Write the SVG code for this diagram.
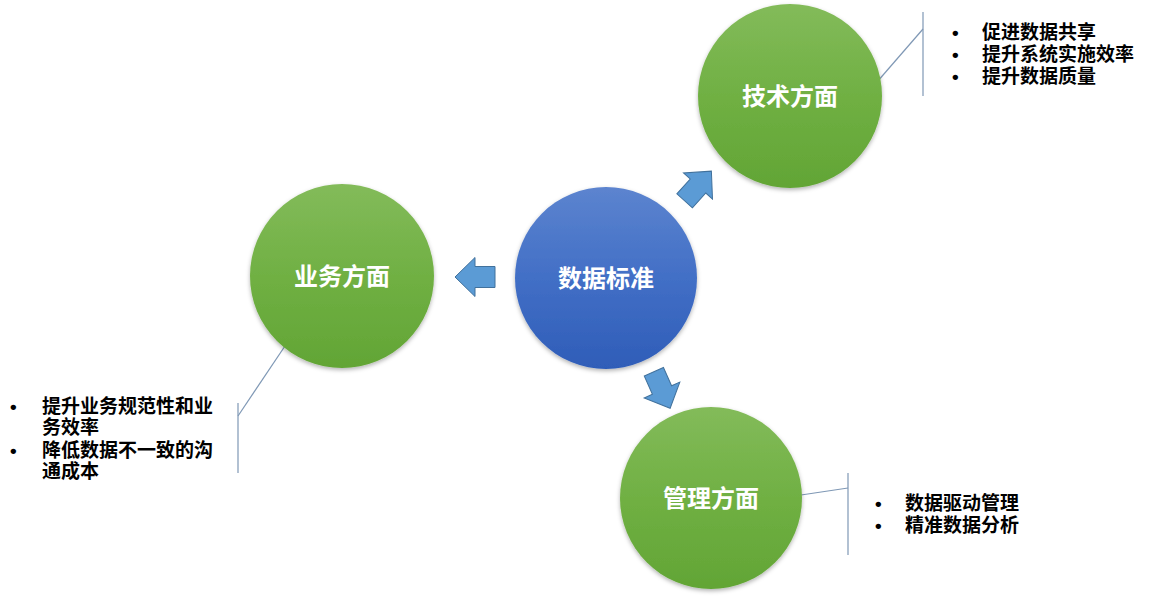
<svg xmlns="http://www.w3.org/2000/svg" width="1166" height="598" viewBox="0 0 1166 598">
  <defs>
    <linearGradient id="gGreen" x1="0" y1="0" x2="0" y2="1">
      <stop offset="0" stop-color="#83bb5a"/>
      <stop offset="0.5" stop-color="#70b043"/>
      <stop offset="1" stop-color="#62a535"/>
    </linearGradient>
    <linearGradient id="gBlue" x1="0" y1="0" x2="0" y2="1">
      <stop offset="0" stop-color="#5c84cf"/>
      <stop offset="0.5" stop-color="#426fc6"/>
      <stop offset="1" stop-color="#2f5db8"/>
    </linearGradient>
    <filter id="shadow" x="-20%" y="-20%" width="140%" height="140%">
      <feDropShadow dx="0" dy="2" stdDeviation="2" flood-color="#000" flood-opacity="0.3"/>
    </filter>
    <path id="arrow" d="M-20,-10.5 L0,-10.5 L0,-19.5 L20,0 L0,19.5 L0,10.5 L-20,10.5 Z"/>
  </defs>
  <style>
    .green { fill: url(#gGreen); filter: url(#shadow); }
    .blue { fill: url(#gBlue); filter: url(#shadow); }
    .label { font-family: "Liberation Sans", "Noto Sans CJK SC", sans-serif; font-size: 24px; font-weight: bold; fill: #ffffff; text-anchor: middle; dominant-baseline: central; }
    .bul { font-family: "Liberation Sans", "Noto Sans CJK SC", sans-serif; font-size: 19px; font-weight: bold; fill: #000000; dominant-baseline: central; }
    .arr { fill: #5b9bd5; stroke: #41719c; stroke-width: 1; }
    .ln { stroke: #7f98b5; stroke-width: 1.2; fill: none; }
  </style>
  <rect width="1166" height="598" fill="#ffffff"/>

  <g id="connectors">
    <use href="#arrow" class="arr" transform="translate(698,186) rotate(-48)"/>
    <use href="#arrow" class="arr" transform="translate(475,277) rotate(180)"/>
    <use href="#arrow" class="arr" transform="translate(662,390) rotate(66)"/>
    <line class="ln" x1="923" y1="12" x2="923" y2="96"/>
    <line class="ln" x1="923" y1="29" x2="877" y2="82"/>
    <line class="ln" x1="238" y1="403" x2="238" y2="473"/>
    <line class="ln" x1="238" y1="416" x2="287" y2="343"/>
    <line class="ln" x1="848" y1="473" x2="848" y2="555"/>
    <line class="ln" x1="848" y1="488" x2="801" y2="495"/>
  </g>

  <g id="node-center">
    <circle class="blue" cx="606" cy="278" r="91"/>
    <text class="label" x="606" y="278">数据标准</text>
  </g>

  <g id="node-tech">
    <circle class="green" cx="790" cy="96" r="92"/>
    <text class="label" x="790" y="96">技术方面</text>
  </g>

  <g id="node-biz">
    <circle class="green" cx="342" cy="276" r="92"/>
    <text class="label" x="342" y="276">业务方面</text>
  </g>

  <g id="node-mgmt">
    <circle class="green" cx="711" cy="498" r="91"/>
    <text class="label" x="711" y="498">管理方面</text>
  </g>

  <g id="text-tech">
    <text class="bul" x="952" y="32">•</text>
    <text class="bul" x="982" y="32">促进数据共享</text>
    <text class="bul" x="952" y="54">•</text>
    <text class="bul" x="982" y="54">提升系统实施效率</text>
    <text class="bul" x="952" y="76">•</text>
    <text class="bul" x="982" y="76">提升数据质量</text>
  </g>

  <g id="text-biz">
    <text class="bul" x="10" y="406">•</text>
    <text class="bul" x="42" y="406">提升业务规范性和业</text>
    <text class="bul" x="42" y="427">务效率</text>
    <text class="bul" x="10" y="450">•</text>
    <text class="bul" x="42" y="450">降低数据不一致的沟</text>
    <text class="bul" x="42" y="471">通成本</text>
  </g>

  <g id="text-mgmt">
    <text class="bul" x="875" y="503">•</text>
    <text class="bul" x="905" y="503">数据驱动管理</text>
    <text class="bul" x="875" y="525">•</text>
    <text class="bul" x="905" y="525">精准数据分析</text>
  </g>
</svg>
